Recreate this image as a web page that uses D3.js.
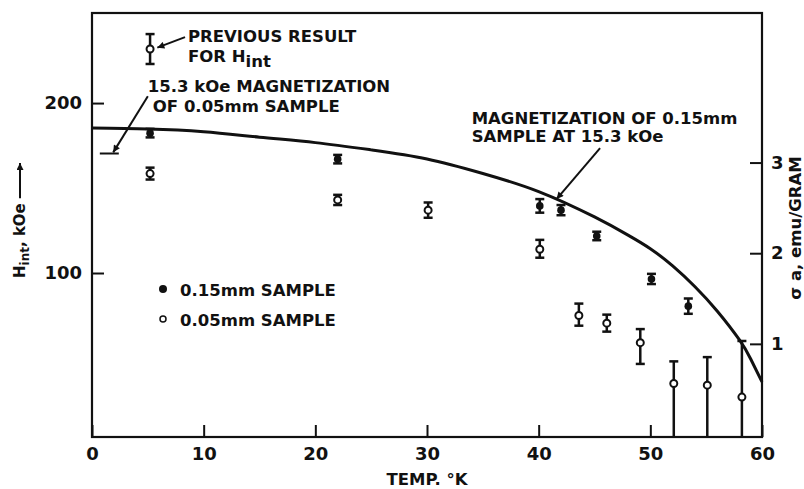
<!DOCTYPE html>
<html>
<head>
<meta charset="utf-8">
<script src="https://cdn.jsdelivr.net/npm/d3@7"></script>
<style>
  body { margin: 0; background: #fff; }
  text { font-family: "DejaVu Sans", sans-serif; font-weight: bold; fill: #111; }
</style>
</head>
<body>
<div id="chart"></div>
<script>
const w = 804;
const h = 489;

const margin = { top: 13, right: 42, bottom: 52, left: 92 };
const width = w - margin.left - margin.right;
const height = h - margin.top - margin.bottom;

// tick values
const tempTicks = [0, 10, 20, 30, 40, 50, 60];
const hTicks = [100, 200];
const sigmaTicks = [1, 2, 3];

// 0.15mm sample (filled points), H_int in kOe
const thickT = [5.2, 22.0, 40.1, 42.0, 45.2, 50.1, 53.4];
const thickH = [182.3, 167, 139.5, 137, 121.8, 96.5, 80.5];
const thickErr = [2.5, 2.5, 4, 3, 2.5, 3, 4.5];

// 0.05mm sample (open points)
const thinT = [5.2, 22.0, 30.1, 40.1, 43.6, 46.1, 49.1, 52.1, 55.1, 58.2];
const thinH = [158.5, 143, 137, 114, 75, 70.5, 59, 35, 34, 27];
const thinLo = [155, 140, 132.5, 109, 69, 65.5, 46.5, 0, 0, 0];
const thinHi = [162, 146, 141.5, 119.5, 82, 75.5, 67, 48, 50.5, 60];

// previous result for H_int
const prevT = [5.2];
const prevH = [231.8];
const prevLo = [223];
const prevHi = [240.6];

// magnetization of 0.15mm sample at 15.3 kOe (right axis, emu/g)
const curveT = [0, 5, 10, 15, 20, 25, 30, 35, 40, 45, 48, 50, 52, 54, 56, 58, 59, 60];
const curveSigma = [3.38, 3.37, 3.34, 3.28, 3.22, 3.14, 3.04, 2.88, 2.68, 2.40, 2.20, 2.05, 1.86, 1.63, 1.36, 1.04, 0.83, 0.58];

// 15.3 kOe magnetization of 0.05mm sample
const thinMagT = [0.7, 2.4];
const thinMagSigma = 3.1;

const svg = d3.select("#chart")
    .append("svg")
    .attr("width", w)
    .attr("height", h);

const g = svg.append("g")
    .attr("transform", "translate(" + margin.left + "," + margin.top + ")");

// scales
const x = d3.scaleLinear().domain([0, 60]).range([0, width]);
const yL = d3.scaleLinear().domain([3.5, 253]).range([height, 0]);
const yR = d3.scaleLinear().domain([0, 4.65]).range([height - 2.5, 0]);

const ink = "#111";

// arrow head
svg.append("defs").append("marker")
    .attr("id", "arr")
    .attr("viewBox", "0 0 10 10")
    .attr("refX", 10)
    .attr("refY", 5)
    .attr("markerWidth", 9)
    .attr("markerHeight", 7)
    .attr("markerUnits", "userSpaceOnUse")
    .attr("orient", "auto")
    .append("path")
    .attr("d", "M0,0 L10,5 L0,10 z")
    .attr("fill", ink);

// axes (ticks point inside)
const xAxis = g.append("g")
    .attr("transform", "translate(0," + height + ")")
    .call(d3.axisBottom(x).tickValues(tempTicks).tickSize(-12).tickSizeOuter(0).tickPadding(10));

const lAxis = g.append("g")
    .call(d3.axisLeft(yL).tickValues(hTicks).tickSize(-12).tickSizeOuter(0).tickPadding(10));

const rAxis = g.append("g")
    .attr("transform", "translate(" + width + ",0)")
    .call(d3.axisRight(yR).tickValues(sigmaTicks).tickFormat(d3.format("d"))
        .tickSize(-12).tickSizeOuter(0).tickPadding(9));

[xAxis, lAxis, rAxis].forEach(a => {
    a.select(".domain").remove();
    a.selectAll("line").attr("stroke", ink).attr("stroke-width", 2);
    a.selectAll("text").attr("font-size", 18).attr("fill", ink)
        .style("font-family", "DejaVu Sans").style("font-weight", "bold");
});

// frame
g.append("rect")
    .attr("width", width)
    .attr("height", height)
    .attr("fill", "none")
    .attr("stroke", ink)
    .attr("stroke-width", 2.2);

// magnetization curve
const curveData = curveT.map((t, i) => [t, curveSigma[i]]);
g.append("path")
    .datum(curveData)
    .attr("fill", "none")
    .attr("stroke", ink)
    .attr("stroke-width", 3)
    .attr("d", d3.line()
        .x(d => x(d[0]))
        .y(d => yR(d[1]))
        .curve(d3.curveNatural));

// 0.05mm magnetization mark
g.append("line")
    .attr("x1", x(thinMagT[0]))
    .attr("x2", x(thinMagT[1]))
    .attr("y1", yR(thinMagSigma))
    .attr("y2", yR(thinMagSigma))
    .attr("stroke", ink)
    .attr("stroke-width", 2);

// error bars
let drawBars = function(ts, lo, hi) {
    const capW = 4.5;
    ts.forEach((t, i) => {
        const cx = x(t);
        const yTop = yL(hi[i]);
        const yBot = Math.min(yL(lo[i]), height);
        g.append("line")
            .attr("x1", cx).attr("x2", cx)
            .attr("y1", yTop).attr("y2", yBot)
            .attr("stroke", ink).attr("stroke-width", 2.5);
        g.append("line")
            .attr("x1", cx - capW).attr("x2", cx + capW)
            .attr("y1", yTop).attr("y2", yTop)
            .attr("stroke", ink).attr("stroke-width", 2.5);
        if (yL(lo[i]) < height) {
            g.append("line")
                .attr("x1", cx - capW).attr("x2", cx + capW)
                .attr("y1", yBot).attr("y2", yBot)
                .attr("stroke", ink).attr("stroke-width", 2.5);
        }
    });
};

drawBars(thickT, thickH.map((v, i) => v - thickErr[i]), thickH.map((v, i) => v + thickErr[i]));
drawBars(thinT, thinLo, thinHi);
drawBars(prevT, prevLo, prevHi);

g.selectAll(".thick")
    .data(thickT)
    .enter()
    .append("circle")
    .attr("class", "thick")
    .attr("cx", d => x(d))
    .attr("cy", (d, i) => yL(thickH[i]))
    .attr("r", 3.8)
    .attr("fill", ink);

g.selectAll(".thin")
    .data(thinT.concat(prevT))
    .enter()
    .append("circle")
    .attr("class", "thin")
    .attr("cx", d => x(d))
    .attr("cy", (d, i) => yL(thinH.concat(prevH)[i]))
    .attr("r", 3.5)
    .attr("fill", "#fff")
    .attr("stroke", ink)
    .attr("stroke-width", 2);

// annotations
let note = function(t, hv, str) {
    return g.append("text")
        .attr("x", x(t))
        .attr("y", yL(hv))
        .attr("font-size", 16.5)
        .text(str);
};

let leader = function(t1, h1, t2, h2) {
    g.append("line")
        .attr("x1", x(t1)).attr("y1", yL(h1))
        .attr("x2", x(t2)).attr("y2", yL(h2))
        .attr("stroke", ink)
        .attr("stroke-width", 2)
        .attr("marker-end", "url(#arr)");
};

note(8.6, 235.9, "PREVIOUS RESULT");
const forH = note(8.6, 224.1, "FOR H");
forH.append("tspan").attr("dy", 5).text("int");
leader(8.33, 238.8, 5.85, 232.6);

note(5.0, 206.5, "15.3 kOe MAGNETIZATION");
note(5.45, 194.7, "OF 0.05mm SAMPLE");
leader(5.0, 204, 1.9, 171);

note(34.0, 187.6, "MAGNETIZATION OF 0.15mm");
note(34.0, 177, "SAMPLE AT 15.3 kOe");
leader(45.5, 173.5, 41.6, 143.5);

// legend
const legend = g.append("g").attr("transform", "translate(71,276)");
legend.append("circle").attr("r", 4).attr("fill", ink);
legend.append("text").attr("x", 17).attr("y", 7).attr("font-size", 16.5).text("0.15mm SAMPLE");
legend.append("circle").attr("cy", 30).attr("r", 3).attr("fill", "#fff")
    .attr("stroke", ink).attr("stroke-width", 1.5);
legend.append("text").attr("x", 17).attr("y", 37).attr("font-size", 16.5).text("0.05mm SAMPLE");

// axis titles
svg.append("text")
    .attr("x", margin.left + x(30))
    .attr("y", 485)
    .attr("text-anchor", "middle")
    .attr("font-size", 16.5)
    .text("TEMP. °K");

const hLabel = svg.append("text")
    .attr("transform", "translate(25,278) rotate(-90)")
    .attr("font-size", 15);
hLabel.append("tspan").text("H");
hLabel.append("tspan").attr("font-size", 12).attr("dy", 4).text("int");
hLabel.append("tspan").attr("dy", -4).text(", kOe");
const labLen = hLabel.node().getComputedTextLength();
svg.append("line")
    .attr("x1", 20).attr("x2", 20)
    .attr("y1", 278 - labLen - 5)
    .attr("y2", 163)
    .attr("stroke", ink)
    .attr("stroke-width", 2)
    .attr("marker-end", "url(#arr)");

svg.append("text")
    .attr("transform", "translate(801,228) rotate(-90)")
    .attr("text-anchor", "middle")
    .attr("font-size", 16.5)
    .text("σ a, emu/GRAM");
</script>
</body>
</html>
